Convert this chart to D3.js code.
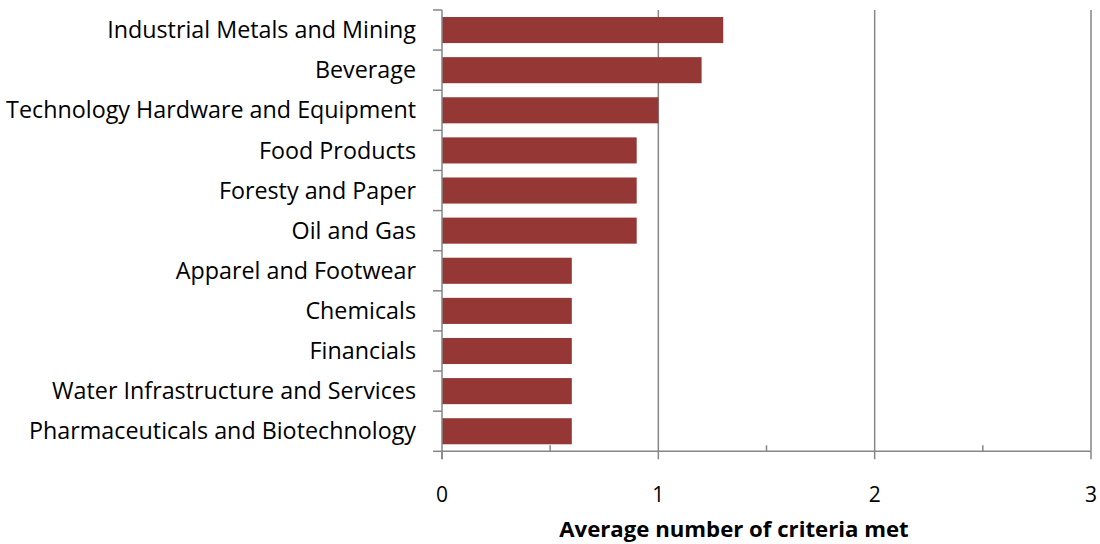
<!DOCTYPE html>
<html><head><meta charset="utf-8">
<script src="https://cdn.jsdelivr.net/npm/d3@7"></script>
<style>body{margin:0;background:#fff}text{font-family:"Open Sans",sans-serif}</style>
</head><body><svg id="c" width="1100" height="544"></svg>
<script>
const categories = ["Industrial Metals and Mining","Beverage","Technology Hardware and Equipment","Food Products","Foresty and Paper","Oil and Gas","Apparel and Footwear","Chemicals","Financials","Water Infrastructure and Services","Pharmaceuticals and Biotechnology"];
const values = [1.3,1.2,1.0,0.9,0.9,0.9,0.6,0.6,0.6,0.6,0.6];
const majorTicks = [0,1,2,3];
const minorTicks = [0.5,1.5,2.5];
const xTitle = "Average number of criteria met";

const svg = d3.select("#c");
const pL = 442, pR = 1091, pT = 10, pB = 451.3;
const x = d3.scaleLinear().domain([0,3]).range([pL,pR]);
const y = d3.scaleBand().domain(categories).range([pT,pB]).paddingInner(0.35).paddingOuter(0.175);
const axisColor = "#868686";

// gridlines
svg.append("g").selectAll("line").data(majorTicks.filter(d=>d>0)).join("line")
  .attr("x1",d=>x(d)).attr("x2",d=>x(d)).attr("y1",pT).attr("y2",pB)
  .attr("stroke",axisColor).attr("stroke-width",1.5);

// bars
svg.append("g").selectAll("rect").data(categories).join("rect")
  .attr("x",x(0)).attr("y",d=>y(d)).attr("width",(d,i)=>x(values[i])-x(0))
  .attr("height",y.bandwidth()).attr("fill","#953735");

// y axis
const step = y.step();
const yTicks = d3.range(categories.length+1).map(i=>pT+i*step);
svg.append("line").attr("x1",pL).attr("x2",pL).attr("y1",pT).attr("y2",pB+8)
  .attr("stroke",axisColor).attr("stroke-width",1.5);
svg.append("g").selectAll("line").data(yTicks).join("line")
  .attr("x1",pL-9).attr("x2",pL).attr("y1",d=>d).attr("y2",d=>d)
  .attr("stroke",axisColor).attr("stroke-width",1.5);
svg.append("g").selectAll("text").data(categories).join("text")
  .attr("x",pL-26).attr("y",d=>y(d)+y.bandwidth()/2).attr("dy","0.35em")
  .attr("text-anchor","end").attr("font-size",23.3).attr("fill","#000").text(d=>d);

// x axis
svg.append("line").attr("x1",pL).attr("x2",pR).attr("y1",pB).attr("y2",pB)
  .attr("stroke",axisColor).attr("stroke-width",1.5);
svg.append("g").selectAll("line").data(majorTicks).join("line")
  .attr("x1",d=>x(d)).attr("x2",d=>x(d)).attr("y1",pB).attr("y2",pB+8)
  .attr("stroke",axisColor).attr("stroke-width",1.5);
svg.append("g").selectAll("line").data(minorTicks).join("line")
  .attr("x1",d=>x(d)).attr("x2",d=>x(d)).attr("y1",pB-6).attr("y2",pB)
  .attr("stroke",axisColor).attr("stroke-width",1.5);
svg.append("g").selectAll("text").data(majorTicks).join("text")
  .attr("x",d=>x(d)).attr("y",502).attr("text-anchor","middle")
  .attr("font-size",21).attr("fill","#000").text(d=>d);
svg.append("text").attr("x",734).attr("y",537).attr("text-anchor","middle")
  .attr("font-size",22.2).attr("font-weight","bold").attr("fill","#000").text(xTitle);
</script></body></html>
